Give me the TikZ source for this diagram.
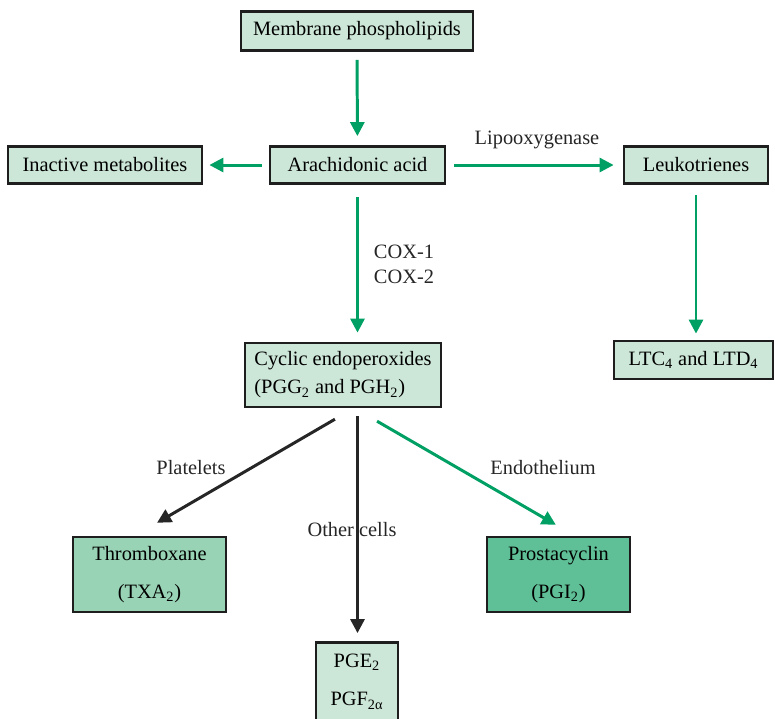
\documentclass[tikz,border=0pt]{standalone}
\usepackage{fontspec}
\setmainfont{Liberation Serif}
\usetikzlibrary{arrows.meta}

\definecolor{flowgreen}{RGB}{0,160,100}
\definecolor{boxfill}{RGB}{204,230,216}
\definecolor{txfill}{RGB}{153,211,181}
\definecolor{pgfill}{RGB}{95,191,150}
\definecolor{boxline}{RGB}{30,30,30}

\begin{document}
\begin{tikzpicture}[x=0.02cm, y=-0.02cm,
  box/.style={draw=boxline, line width=1.6pt, fill=boxfill, inner sep=0pt,
              font=\fontsize{11.6}{14}\selectfont, text centered},
  lbl/.style={font=\fontsize{11.6}{14}\selectfont, text=black!85},
  garr/.style={draw=flowgreen, line width=1.7pt,
               -{Triangle[length=8pt,width=8pt]}},
  karr/.style={draw=black!85, line width=1.7pt,
               -{Triangle[length=8pt,width=8pt]}}]

  \useasboundingbox (0,0) rectangle (775,718);

  % Top row
  \node[box, minimum width=4.64cm, minimum height=0.78cm] (mem) at (357,31) {Membrane phospholipids};
  \node[box, minimum width=3.5cm, minimum height=0.74cm] (arach) at (357.5,165) {Arachidonic acid};
  \node[box, minimum width=3.88cm, minimum height=0.74cm] (inact) at (105,165) {Inactive metabolites};
  \node[box, minimum width=2.88cm, minimum height=0.74cm] (leuk) at (696,165) {Leukotrienes};

  % Middle row
  \node[box, minimum width=3.92cm, minimum height=1.28cm, align=left] (cyc) at (343,375)
    {Cyclic endoperoxides\\[2pt](PGG\textsubscript{2} and PGH\textsubscript{2})};
  \node[box, minimum width=3.18cm, minimum height=0.76cm] (ltc) at (693.5,360) {LTC\textsubscript{4} and LTD\textsubscript{4}};

  % Products
  \node[box, fill=txfill, minimum width=3.06cm, minimum height=1.5cm, align=center] (thx) at (149.5,574.5)
    {Thromboxane\\[8pt](TXA\textsubscript{2})};
  \node[box, fill=pgfill, minimum width=2.86cm, minimum height=1.5cm, align=center] (pgi) at (558.5,574.5)
    {Prostacyclin\\[8pt](PGI\textsubscript{2})};
  \node[box, minimum width=1.64cm, minimum height=1.56cm, align=center] (pge) at (357,681.5)
    {PGE\textsubscript{2}\\[8pt]PGF\textsubscript{2α}};

  % Green pathway
  \draw[garr, shorten <=0.16cm, shorten >=0.18cm] (mem) -- (arach);
  \draw[garr, shorten <=0.14cm, shorten >=0.12cm] (arach) -- (inact);
  \draw[garr, shorten <=0.16cm, shorten >=0.18cm] (arach) -- (leuk);
  \draw[garr, shorten <=0.24cm, shorten >=0.18cm] (arach.south) -- (arach.south |- cyc.north);
  \draw[garr, shorten <=0.2cm, shorten >=0.12cm] (leuk.south) -- (leuk.south |- ltc.north);
  \draw[garr, shorten <=0.51cm, shorten >=0.43cm] ([xshift=0.24cm]cyc.south) -- ([xshift=0.32cm]pgi.north);

  % Black branches
  \draw[karr, shorten <=0.43cm, shorten >=0.51cm] ([xshift=0.21cm]cyc.south) -- ([xshift=-0.29cm]thx.north);
  \draw[karr, shorten <=0.16cm, shorten >=0.16cm] (arach.south |- cyc.south) -- (arach.south |- pge.north);

  % Labels
  \node[lbl] (lipo) at (537,140) {Lipooxygenase};
  \node[lbl, align=left] (cox) at (404,264.5) {COX-1\\COX-2};
  \node[lbl] (plat) at (191,468) {Platelets};
  \node[lbl] (endo) at (543,468) {Endothelium};
  \node[lbl] (other) at (352,530) {Other cells};

\end{tikzpicture}
\end{document}
